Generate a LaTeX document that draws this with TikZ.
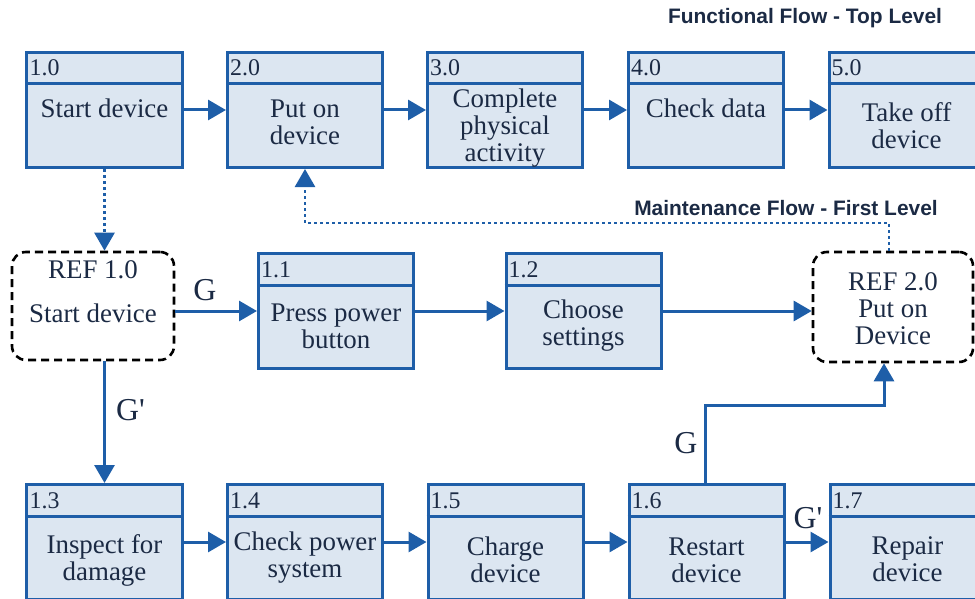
\documentclass[tikz,border=0pt]{standalone}
\usepackage{fontspec}
\setmainfont{Liberation Serif}
\newfontfamily\headfont{Liberation Sans}
\usetikzlibrary{arrows.meta}

\definecolor{boxblue}{RGB}{30,94,168}
\definecolor{boxfill}{RGB}{220,230,241}
\definecolor{ink}{RGB}{27,42,68}

\tikzset{
  fnbox/.style={draw=boxblue, fill=boxfill, line width=3bp,
    minimum width=155bp, minimum height=115bp, inner sep=0pt},
  refbox/.style={draw=black, line width=2.6bp, dash pattern=on 8bp off 5bp,
    rounded corners=14bp, fill=white, inner sep=0pt},
  sepline/.style={draw=boxblue, line width=3bp},
  numtxt/.style={font=\fontsize{24}{24}\selectfont, text=ink, inner sep=0pt, anchor=base west},
  bodytxt/.style={font=\fontsize{27}{27}\selectfont, text=ink, align=center, inner sep=0pt},
  gtxt/.style={font=\fontsize{32}{32}\selectfont, text=ink, inner sep=0pt},
  headtxt/.style={font=\headfont\bfseries\fontsize{21}{21}\selectfont, text=ink, inner sep=0pt},
  flow/.style={draw=boxblue, line width=3bp, -{Triangle[length=18bp,width=20bp]}},
  dotflow/.style={draw=boxblue, line width=2.6bp, dash pattern=on 2.6bp off 3.4bp,
    -{Triangle[length=18bp,width=20bp]}},
}

% function block: name, centre x, top y, number
\newcommand\fnblock[4]{%
  \node[fnbox, anchor=north] (#1) at (#2,#3) {};
  \draw[sepline] ([yshift=-33bp]#1.north west) -- ([yshift=-33bp]#1.north east);
  \node[numtxt] (#1n) at ([xshift=4bp,yshift=-25bp]#1.north west) {#4};
}

\begin{document}
\begin{tikzpicture}[x=1bp,y=-1bp]
\useasboundingbox (0,0) rectangle (975,599);
\clip (0,0) rectangle (975,599);

% titles
\node[headtxt] (title1) at (805,18) {Functional Flow - Top Level};
\node[headtxt] (title2) at (786,208) {Maintenance Flow - First Level};

% top level functions
\fnblock{f10}{104.5}{51}{1.0}
\fnblock{f20}{305}{51}{2.0}
\fnblock{f30}{505}{51}{3.0}
\fnblock{f40}{706}{51}{4.0}
\fnblock{f50}{906.5}{51}{5.0}
\node[bodytxt] (f10b) at (104.5,108.5) {Start device};
\node[bodytxt] (f20b) at (305,122.5) {Put on\\device};
\node[bodytxt] (f30b) at (505,128) {Complete\\physical\\activity};
\node[bodytxt] (f40b) at (706,108.5) {Check data};
\node[bodytxt] (f50b) at (906.5,126) {Take off\\device};

% reference blocks
\node[refbox, minimum width=162bp, minimum height=108bp] (r10) at (93,306) {};
\node[bodytxt] (r10a) at (93,270) {REF 1.0};
\node[bodytxt] (r10b) at (93,313) {Start device};
\node[refbox, minimum width=160bp, minimum height=110bp] (r20) at (893,307) {};
\node[bodytxt] (r20b) at (893,309) {REF 2.0\\Put on\\Device};

% maintenance functions
\fnblock{f11}{336}{252}{1.1}
\fnblock{f12}{583.5}{252}{1.2}
\node[bodytxt] (f11b) at (336,326) {Press power\\button};
\node[bodytxt] (f12b) at (583.5,326) {Choose\\settings};

\fnblock{f13}{104.5}{483}{1.3}
\fnblock{f14}{305}{483}{1.4}
\fnblock{f15}{505.5}{483}{1.5}
\fnblock{f16}{706.5}{483}{1.6}
\fnblock{f17}{907.5}{483}{1.7}
\node[bodytxt] (f13b) at (104.5,560) {Inspect for\\damage};
\node[bodytxt] (f14b) at (305,558) {Check power\\system};
\node[bodytxt] (f15b) at (505.5,560) {Charge\\device};
\node[bodytxt] (f16b) at (706.5,560) {Restart\\device};
\node[bodytxt] (f17b) at (907.5,559) {Repair\\device};

% top level flow
\draw[flow] (f10) -- (f20);
\draw[flow] (f20) -- (f30);
\draw[flow] (f30) -- (f40);
\draw[flow] (f40) -- (f50);

% links between levels
\draw[dotflow] (f10.south) -- (f10.south |- r10.north);
\coordinate (mjog) at (889,223);
\draw[dotflow] (mjog |- r20.north) -- (mjog) -- (mjog -| f20.south) -- (f20.south);

% maintenance flow
\draw[flow] (f11.west -| r10.east) -- (f11.west);
\draw[flow] (f11) -- (f12);
\draw[flow] (f12.east) -- (f12.east -| r20.west);
\draw[flow] (r10.south -| f13.north) -- (f13.north);
\draw[flow] (f13) -- (f14);
\draw[flow] (f14) -- (f15);
\draw[flow] (f15) -- (f16);
\draw[flow] (f16) -- (f17);
\coordinate (gjog) at (705,405);
\draw[flow] (gjog |- f16.north) -- (gjog) -| ([xshift=-9bp]r20.south);

% branch labels
\node[gtxt] (g1) at (205,290) {G};
\node[gtxt, anchor=west] (g2) at (116,410) {G\textquotesingle};
\node[gtxt] (g3) at (686,443) {G};
\node[gtxt] (g4) at (808,518) {G\textquotesingle};
\end{tikzpicture}
\end{document}
